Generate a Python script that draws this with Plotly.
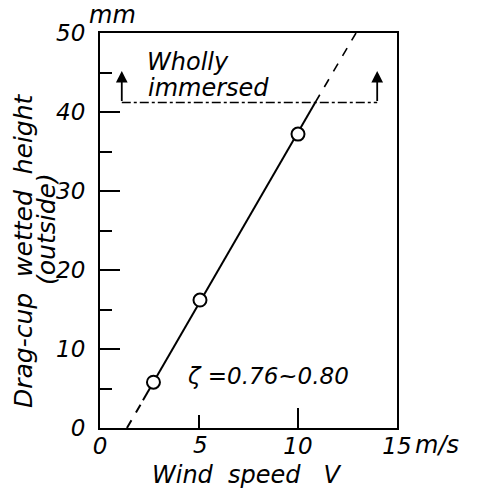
import plotly.graph_objects as go

# measured points (wind speed m/s, wetted height mm)
wind_speed = [2.7, 5.05, 10.0]
wetted_height = [5.8, 16.2, 37.2]

# fitted line: dashed extrapolation, solid part, dashed extrapolation
fit_low_x = [1.36, 2.17]
fit_low_y = [0.0, 3.5]
fit_mid_x = [2.17, 10.87]
fit_mid_y = [3.5, 41.2]
fit_high_x = [10.87, 12.93]
fit_high_y = [41.2, 50.0]

# "wholly immersed" level
immersed_x = [1.1, 14.0]
immersed_y = [41.2, 41.2]
arrow_top = 45.2

y_ticks = [0, 10, 20, 30, 40, 50]

# the page body has an 8px margin, so the figure is drawn 8px in from the corner
OFF = 8
W, H = 477 - OFF, 491 - OFF
PLOT_L, PLOT_R, PLOT_T, PLOT_B = 100, 397, 33, 428  # screen pixels
L, R, T, B = PLOT_L - OFF, W - (PLOT_R - OFF), PLOT_T - OFF, H - (PLOT_B - OFF)
FONT = "DejaVu Sans"
fnt = dict(family=FONT, size=23, color="black", style="italic")


def px(x, y):
    # screen pixels -> paper coords (paper = plot area)
    return (x - PLOT_L) / (PLOT_R - PLOT_L), (PLOT_B - y) / (PLOT_B - PLOT_T)


fig = go.Figure()
fig.add_trace(go.Scatter(x=fit_low_x, y=fit_low_y, mode="lines",
                         line=dict(color="black", width=2, dash="dash")))
fig.add_trace(go.Scatter(x=fit_mid_x, y=fit_mid_y, mode="lines",
                         line=dict(color="black", width=2)))
fig.add_trace(go.Scatter(x=fit_high_x, y=fit_high_y, mode="lines",
                         line=dict(color="black", width=1.6, dash="dash")))
fig.add_trace(go.Scatter(x=immersed_x, y=immersed_y, mode="lines",
                         line=dict(color="black", width=1.5, dash="dashdot")))
fig.add_trace(go.Scatter(x=wind_speed, y=wetted_height, mode="markers",
                         marker=dict(size=13, color="white",
                                     line=dict(color="black", width=2))))

# arrows
for xa in immersed_x:
    fig.add_annotation(x=xa, y=arrow_top, ax=xa, ay=immersed_y[0],
                       xref="x", yref="y", axref="x", ayref="y",
                       showarrow=True, arrowhead=2, arrowsize=1.3,
                       arrowwidth=1.8, arrowcolor="black", text="")

anns = [
    dict(text="Wholly", x=145, y=62, xanchor="left"),
    dict(text="immersed", x=146, y=88, xanchor="left"),
    dict(text="ζ =0.76~0.80", x=185, y=376, xanchor="left", size=23),
    dict(text="mm", x=112, y=15, xanchor="center"),
    dict(text="m/s", x=413, y=445, xanchor="left"),
    dict(text="Wind\u00a0\u00a0speed\u00a0\u00a0\u00a0V", x=246, y=475, xanchor="center"),
    dict(text="5", x=200, y=445, xanchor="center", size=23),
]
for a in anns:
    ax_, ay_ = px(a["x"], a["y"])
    fig.add_annotation(text=a["text"], x=ax_, y=ay_,
                       xref="paper", yref="paper", xanchor=a["xanchor"],
                       yanchor="middle", showarrow=False,
                       font=dict(family=FONT, size=a.get("size", 24),
                                 color="black", style="italic"))

# rotated y-axis titles
for text, xp, yp, size in [("Drag-cup\u00a0\u00a0wetted\u00a0\u00a0height", 23, 251, 25),
                           ("(outside)", 46, 229, 25)]:
    ax_, ay_ = px(xp, yp)
    fig.add_annotation(text=text, x=ax_, y=ay_, xref="paper", yref="paper",
                       textangle=-90, showarrow=False,
                       xanchor="center", yanchor="middle",
                       font=dict(family=FONT, size=size, color="black", style="italic"))

fig.update_xaxes(range=[0, 15], tickvals=[0, 10, 15], ticktext=["0", "10", "15"],
                 ticks="inside", ticklen=20, tickwidth=2, tickcolor="black",
                 minor=dict(tickvals=[5], ticks="inside", ticklen=13,
                            tickwidth=2, tickcolor="black"),
                 ticklabelstandoff=-4,
                 showline=True, linewidth=2, linecolor="black", mirror=True,
                 showgrid=False, zeroline=False, tickfont=fnt)
fig.update_yaxes(range=[0, 50], tickvals=y_ticks, ticks="inside", ticklen=20,
                 tickwidth=2, tickcolor="black",
                 minor=dict(tickvals=[5, 15, 25, 35, 45], ticks="inside",
                            ticklen=12, tickwidth=2, tickcolor="black"),
                 ticklabelstandoff=8,
                 showline=True, linewidth=2, linecolor="black", mirror=True,
                 showgrid=False, zeroline=False, tickfont=fnt)

fig.update_layout(width=W, height=H, margin=dict(l=L, r=R, t=T, b=B),
                  plot_bgcolor="white", paper_bgcolor="white", showlegend=False)

fig.write_html("out.html")
